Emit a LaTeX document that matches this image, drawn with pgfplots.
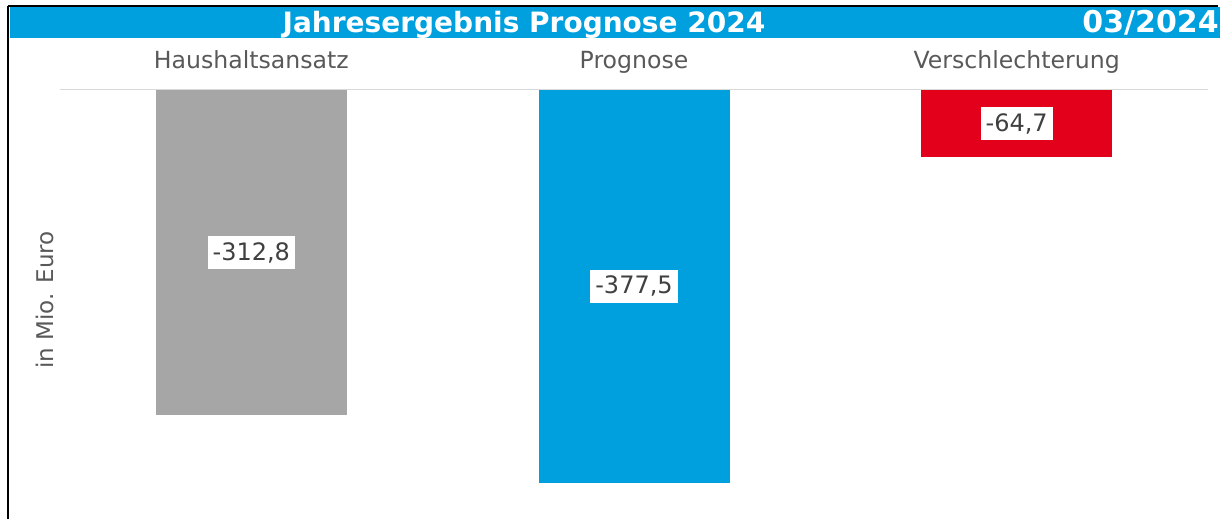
\documentclass[border=0pt]{standalone}
\usepackage{fontspec}
\setmainfont{DejaVu Sans}
\usepackage{pgfplots}
\pgfplotsset{compat=1.18}
\definecolor{cblue}{RGB}{0,160,222}
\definecolor{cgray}{RGB}{166,166,166}
\definecolor{cred}{RGB}{226,0,26}
\definecolor{ctext}{RGB}{89,89,89}
\definecolor{cval}{RGB}{64,64,64}
\definecolor{cline}{RGB}{217,217,217}
\begin{document}
\begin{tikzpicture}
\begin{scope}[x=0.5pt,y=0.5pt]
\path[use as bounding box] (0,0) rectangle (1226,519);
\fill[cblue] (10,512) rectangle (1220,481);
\draw[black,line width=1pt] (7.5,513) -- (1218,513);
\draw[black,line width=1pt] (8,513) -- (8,0);
\node[text=white,font=\fontsize{14}{16}\selectfont\bfseries,anchor=base] at (524,486) {Jahresergebnis Prognose 2024};
\node[text=white,font=\fontsize{15}{17}\selectfont\bfseries,anchor=base east,inner sep=0pt] at (1219,486) {03/2024};
\node[rotate=90,text=ctext,font=\fontsize{11.5}{13}\selectfont] at (45,219) {in Mio. Euro};
\end{scope}
\begin{axis}[
  at={(30pt,214.5pt)}, anchor=north west,
  scale only axis, width=574pt, height=214.5pt,
  xmin=-0.5, xmax=2.5, ymin=-412.5, ymax=0,
  axis x line*=top, axis y line=none,
  x axis line style={cline, line width=0.5pt},
  xtick={0,1,2},
  xticklabels={Haushaltsansatz,Prognose,Verschlechterung},
  major tick length=0pt,
  xticklabel style={text=ctext,font=\fontsize{11.8}{13}\selectfont, anchor=base, yshift=10.5pt},
  ytick=\empty,
  ybar, bar width=95.5pt, bar shift=0pt,
  clip=false,
]
\addplot[fill=cgray, draw=none] coordinates {(0,-312.8)};
\addplot[fill=cblue, draw=none] coordinates {(1,-377.5)};
\addplot[fill=cred, draw=none] coordinates {(2,-64.7)};
\node[fill=white,text=cval,font=\fontsize{12}{14}\selectfont,inner xsep=2.5pt,inner ysep=3pt] at (axis cs:0,-156.4) {-312,8};
\node[fill=white,text=cval,font=\fontsize{12}{14}\selectfont,inner xsep=2.5pt,inner ysep=3pt] at (axis cs:1,-188.75) {-377,5};
\node[fill=white,text=cval,font=\fontsize{12}{14}\selectfont,inner xsep=2.5pt,inner ysep=3pt] at (axis cs:2,-32.35) {-64,7};
\end{axis}
\end{tikzpicture}
\end{document}
